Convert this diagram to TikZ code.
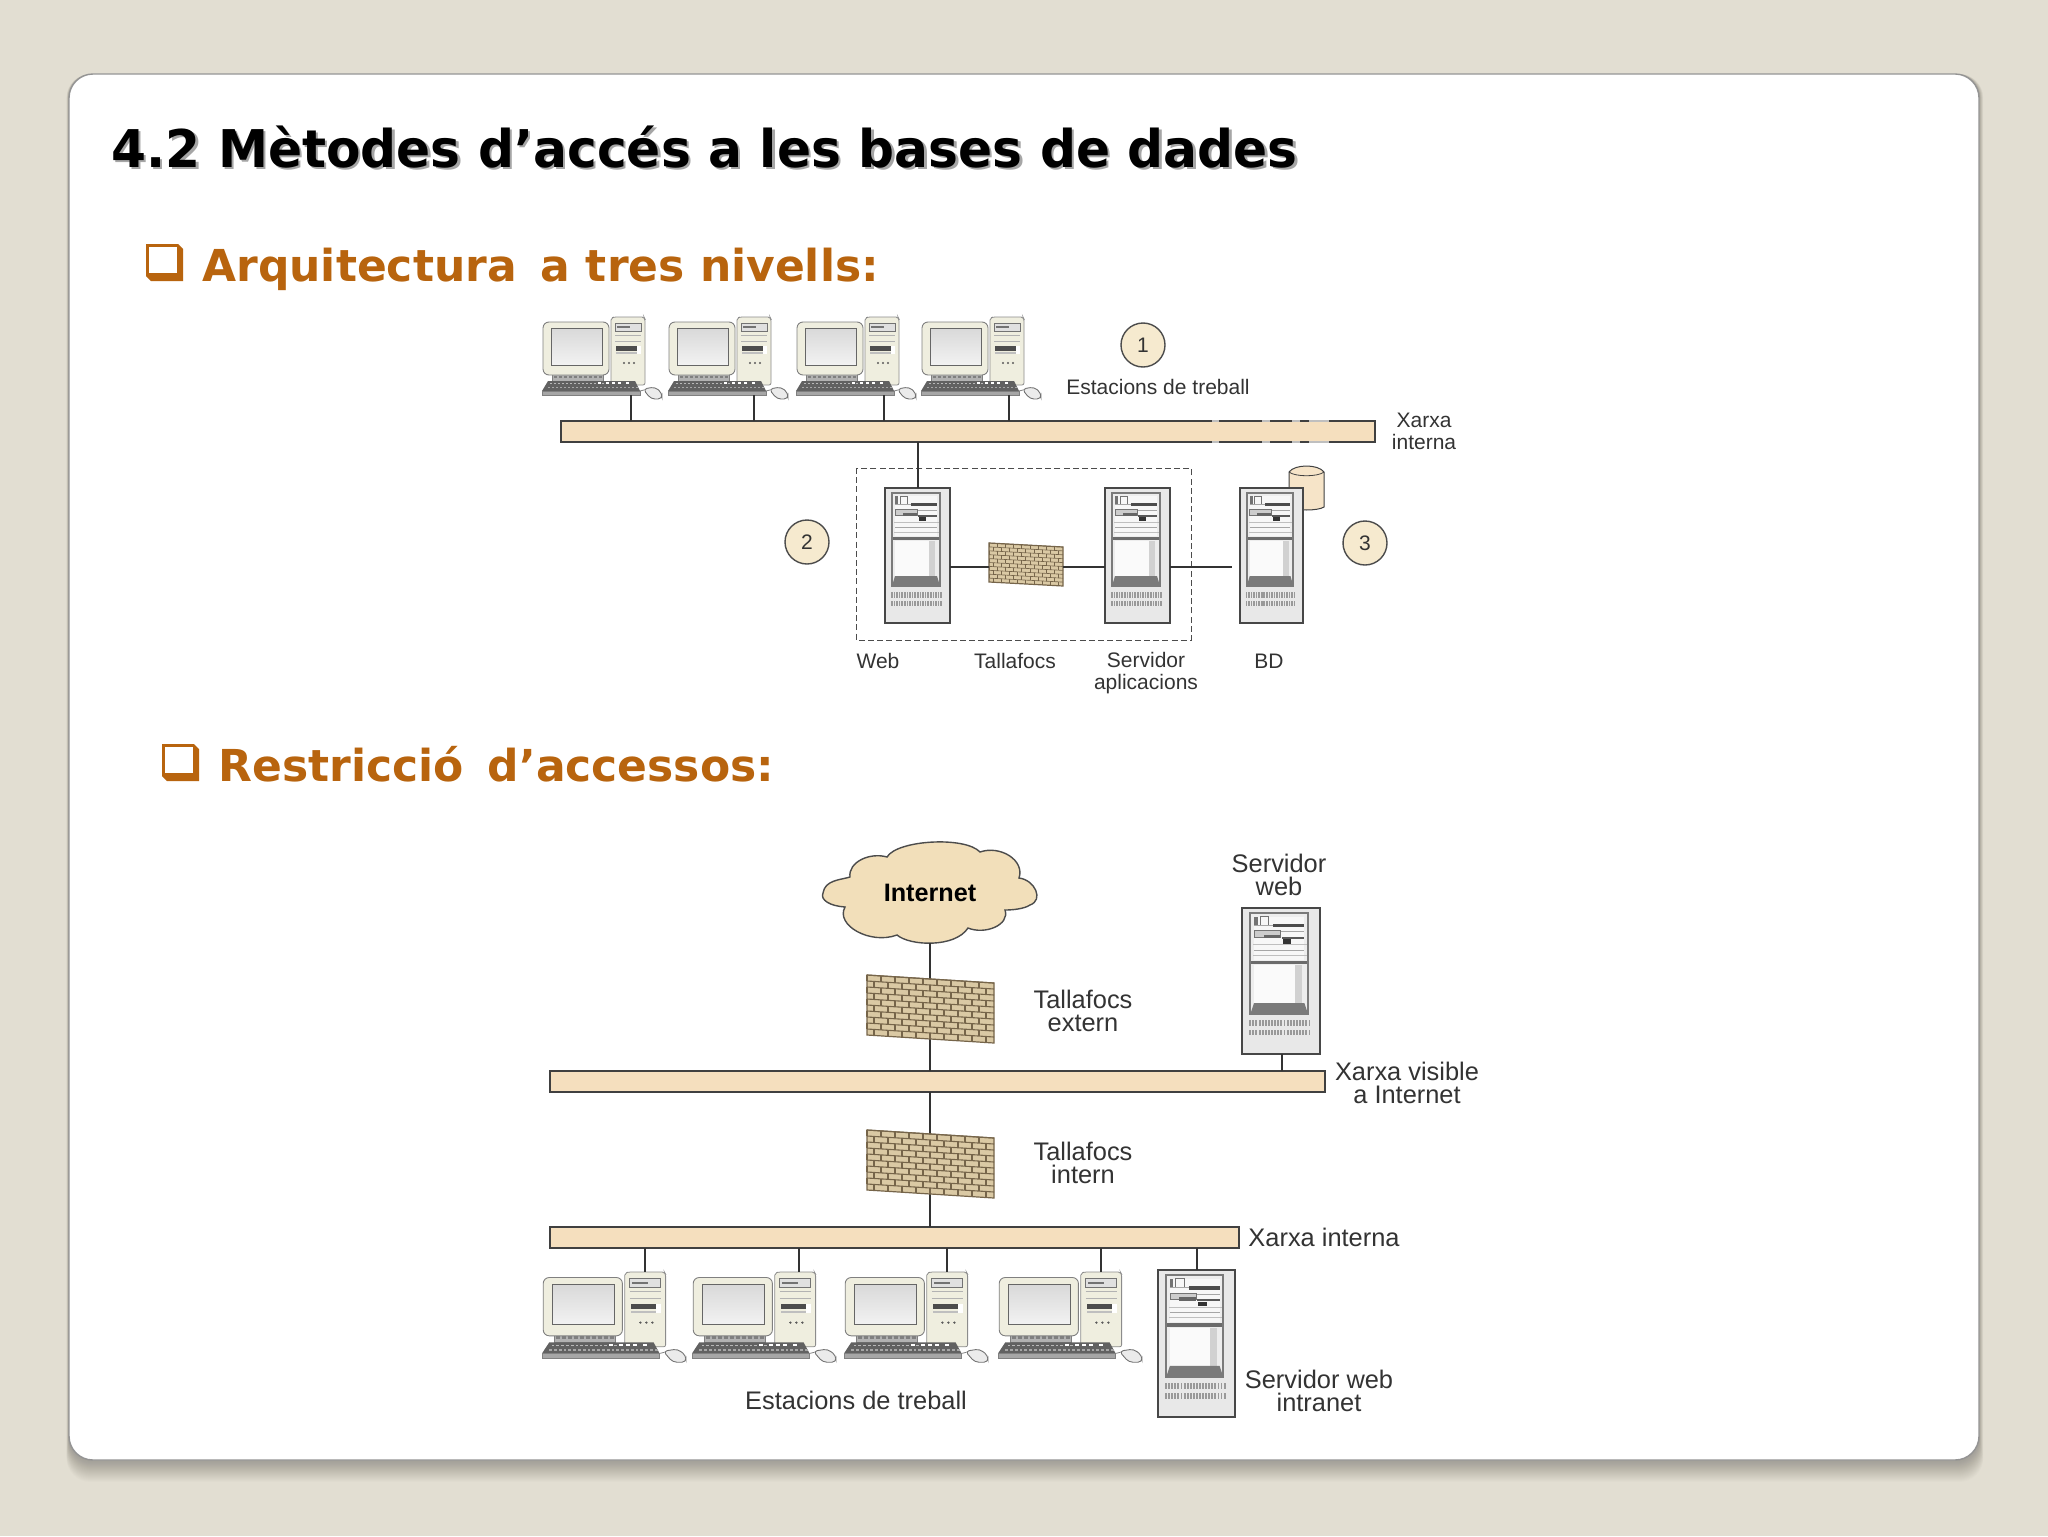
\documentclass[tikz,border=0pt]{standalone}
\usepackage{graphicx}
\usepackage{fontspec}
\setmainfont{Liberation Sans}
\newfontfamily\verd{DejaVu Sans}
\definecolor{bgc}{HTML}{E2DED2}
\definecolor{orng}{HTML}{B8640E}
\definecolor{barc}{HTML}{F5DFBE}
\definecolor{cloudc}{HTML}{F2DFBA}
\definecolor{circc}{HTML}{F6EACF}
\definecolor{creamc}{HTML}{EFEEDF}
\definecolor{txtc}{HTML}{333333}
\definecolor{brickc}{HTML}{DAC9A4}
\definecolor{mortar}{HTML}{76654A}
\tikzset{
  wire/.style={draw=black!80,line width=0.55pt},
  netbar/.style={draw=black!75,fill=barc,line width=0.75pt,inner sep=0pt,outer sep=0pt,minimum height=10.5pt,anchor=north west},
  lab/.style={text=txtc,inner sep=0pt,align=center,font=\fontsize{10.5}{11}\selectfont},
  labb/.style={text=txtc,inner sep=0pt,align=center,font=\fontsize{12.7}{11.5}\selectfont},
  numc/.style={circle,draw=black!70,fill=circc,line width=0.7pt,minimum size=22pt,inner sep=0pt,text=txtc,font=\fontsize{10.5}{10.5}\selectfont},
  ttl/.style={anchor=base west,inner sep=0pt,font=\verd\bfseries\fontsize{26}{26}\selectfont},
  sub/.style={anchor=base west,inner sep=0pt,text=orng,font=\verd\bfseries\fontsize{22}{22}\selectfont},
}
% name, x, y, xscale, yscale : local frame 120 x 82
\newcommand{\compu}[5]{%
\begin{scope}[shift={(#2,#3)},xscale=#4,yscale=#5]
 \coordinate (#1) at (0,0);
 \draw[black!45,fill=creamc,line width=0.4pt,rounded corners=1pt] (69,1) -- (72,0) -- (102,0) -- (103,2) -- (103,68) -- (69,68) -- cycle;
 \draw[black!55,fill=black!12,line width=0.4pt] (73,6) rectangle (99,14);
 \fill[black!55] (75,9) rectangle (88,11);
 \draw[black!30,line width=0.4pt] (73,18) -- (99,18) (73,24) -- (99,24);
 \fill[black!70] (74,29) rectangle (95,34);
 \fill[black!25] (74,35) rectangle (95,37);
 \fill[white] (95,29) rectangle (99,37);
 \foreach \d in {82,87,92} \fill[black!65] (\d,46) circle[radius=1.1];
 \draw[black!50,fill=black!30,line width=0.3pt] (10,57) rectangle (61,64);
 \draw[black!50,fill=creamc,line width=0.45pt,rounded corners=3pt] (1,5) rectangle (67,58);
 \draw[black!60,top color=black!15,bottom color=black!5,line width=0.5pt] (9,11) rectangle (60,48);
 \foreach \d in {12,17,...,58} \fill[black!50] (\d,58.5) rectangle +(3,2);
 \fill[black!62] (6,64) -- (93,64) -- (98,74) -- (0,74) -- cycle;
 \foreach \d in {8,12,...,60} \fill[black!28] (\d,66) rectangle +(2.4,1.4);
 \foreach \d in {6,10,...,94} \fill[black!35] (\d,70) rectangle +(2.4,1.4);
 \foreach \d in {56,64,70,76,84} \fill[white] (\d,65) rectangle +(3.4,2);
 \draw[black!50,fill=black!35,line width=0.3pt] (0,74) -- (98,74) -- (98,78) -- (0,78) -- cycle;
 \draw[black!50,line width=0.4pt] (98,74) -- (102,73);
 \draw[black!55,fill=black!8,line width=0.45pt,rounded corners=2pt] (101,72) -- (113,70) -- (120,76) -- (120,82) -- (109,82) -- cycle;
\end{scope}}
% name, x, y, xscale, yscale : local frame 65 x 135
\newcommand{\srvr}[5]{%
\begin{scope}[shift={(#2,#3)},xscale=#4,yscale=#5]
 \coordinate (#1) at (0,0);
 \draw[black!72,fill=black!9,line width=0.8pt] (0,0) rectangle (65,135);
 \fill[black!7] (7,5) rectangle (55,98);
 \fill[black!3] (10,8) rectangle (52,48);
 \fill[black!55] (10,8) rectangle (13,16);
 \draw[black!55,line width=0.3pt] (15,8) rectangle (22,16);
 \draw[black!35,line width=0.4pt] (10,16) -- (52,16) (10,22) -- (52,22) (10,39) -- (52,39);
 \fill[black!70] (26,15) rectangle (52,18);
 \draw[black!55,fill=black!20,line width=0.3pt] (10,21) rectangle (32,27);
 \fill[black!60] (18,25) rectangle (32,28);
 \fill[black!65] (33,26.5) rectangle (52,28.5);
 \fill[black!80] (34,29) rectangle (41,33);
 \draw[black!25,line width=0.5pt] (9,34) -- (54,34) (9,44) -- (54,44);
 \fill[black!2] (10,53) rectangle (44,88);
 \fill[black!18] (44,53) rectangle (50,88);
 \fill[black!52] (10,88) -- (52,88) -- (55,98) -- (7,98) -- cycle;
 \fill[black!58] (7,49) rectangle (55,52);
 \draw[black!52,line width=1pt] (7,5) rectangle (55,98);
 \foreach \d in {6,8.6,...,58} {\fill[black!40] (\d,104) rectangle +(1.6,5.5); \fill[black!40] (\d,112.5) rectangle +(1.6,5.5);}
\end{scope}}
% name, x, y, width-scale, height-scale, slant : local frame 127 x 60
\newcommand{\wallb}[6]{%
\begin{scope}[shift={(#2,#3)},yslant=-#6,xscale=#4,yscale=#5]
 \coordinate (#1) at (0,0);
 \fill[brickc] (0,0) rectangle (127,60);
 \foreach \r [evaluate=\r as \yy using \r*6] in {0,...,9} {
   \draw[mortar,line width={0.55pt*#4}] (0,\yy) -- (127,\yy);
   \pgfmathsetmacro{\off}{mod(\r,2)*7}
   \foreach \c in {0,...,8} {
     \pgfmathsetmacro{\xx}{\c*14+\off}
     \draw[mortar,line width={0.55pt*#4}] (\xx,\yy) -- (\xx,\yy+6);
   }
 }
 \draw[mortar,line width=0.6pt] (0,0) rectangle (127,60);
\end{scope}}
\newcommand{\sqbul}[2]{%
\begin{scope}[shift={(#1,#2)}]
 \fill[orng] (0,0) -- (32,0) -- (37,5) -- (37,37) -- (5,37) -- (0,32) -- cycle;
 \fill[white] (2.5,3) rectangle (31,29);
\end{scope}}
\begin{document}
\begin{tikzpicture}[x=0.5pt,y=-0.5pt]
\useasboundingbox (0,0) rectangle (2048,1536);
\fill[bgc] (0,0) rectangle (2048,1536);
% card shadow and card
\foreach \i in {22,21,...,1}
  \fill[black,opacity=0.011,rounded corners=12pt] (69-\i*0.12,74) rectangle (1979+\i*0.2,1460+\i);
\draw[black!42,fill=white,line width=0.7pt,rounded corners=12pt] (69,74) rectangle (1979,1460);
% headings
\node[ttl,text=black!35] (titleshade) at (113.5,169) {\scalebox{0.967}[1]{4.2 Mètodes d’accés a les bases de dades}};
\node[ttl,text=black] (title) at (111,167) {\scalebox{0.967}[1]{4.2 Mètodes d’accés a les bases de dades}};
\sqbul{146}{244}
\node[sub] (subone) at (202,281) {Arquitectura\hspace{0.55em}a tres nivells:};
\sqbul{162}{744}
\node[sub] (subtwo) at (218,781) {Restricció\hspace{0.55em}d’accessos:};

% ===== upper diagram =====
\node[netbar,minimum width=407pt] (bar1) at (561,421) {};
\foreach \a/\b in {1212/1219,1262/1270,1292/1300,1309/1329} {
  \draw[black!25,line width=0.8pt] (\a,421) -- (\b,421);
  \draw[black!25,line width=0.8pt] (\a,442) -- (\b,442);
}
\compu{pca}{542}{317}{1}{1}
\compu{pcb}{668}{317}{1}{1}
\compu{pcc}{796}{317}{1}{1}
\compu{pcd}{921}{317}{1}{1}
\coordinate (pa) at (631,395);
\coordinate (pb) at (754,395);
\coordinate (pc) at (884,395);
\coordinate (pd) at (1009,395);
\foreach \p in {pa,pb,pc,pd} \draw[wire] (\p) -- (\p |- bar1.north);
\node[numc] (n1) at (1143,345) {1};
\node[lab] (est1) at (1158,387) {Estacions de treball};
\node[lab] (xi1) at (1424,431) {Xarxa\\interna};
\draw[black!70,line width=0.5pt,dash pattern=on 3pt off 1.6pt] (856,468) rectangle (1191,640);
\draw[black!75,fill=barc!85,line width=0.5pt] (1289,472) -- (1289,507) .. controls (1295,511) and (1318,511) .. (1324,507) -- (1324,472) .. controls (1318,464) and (1295,464) .. (1289,472) -- cycle;
\draw[black!75,line width=0.4pt] (1289,472) .. controls (1295,477) and (1318,477) .. (1324,472);
\srvr{srva}{885}{488}{1}{1}
\srvr{srvb}{1105}{488}{1}{1}
\srvr{srvc}{1240}{488}{0.97}{1}
\wallb{wa}{989}{543}{0.583}{0.65}{0.054}
\coordinate (sa) at (918,488);
\draw[wire] (sa |- bar1.south) -- (sa);
\coordinate (la) at (950,567);
\coordinate (lb) at (989,567);
\coordinate (lc) at (1063,567);
\coordinate (ld) at (1105,567);
\coordinate (le) at (1170,567);
\coordinate (lf) at (1232,567);
\draw[wire] (la) -- (lb);
\draw[wire] (lc) -- (ld);
\draw[wire] (le) -- (lf);
\node[numc] (n2) at (807,542) {2};
\node[numc] (n3) at (1365,543) {3};
\node[lab] (lweb) at (878,661) {Web};
\node[lab] (ltf) at (1015,661) {Tallafocs};
\node[lab,anchor=north] (lsv) at (1146,652) {Servidor\\aplicacions};
\node[lab] (lbd) at (1269,661) {BD};

% ===== lower diagram =====
\node[netbar,minimum width=387.5pt] (bar2) at (550,1071) {};
\node[netbar,minimum width=344.5pt] (bar3) at (550,1227) {};
\draw[black!70,fill=cloudc,line width=0.7pt] (823,893) .. controls (825,880) and (840,880) .. (850,877)
  .. controls (848,862) and (870,852) .. (887,857)
  .. controls (897,840) and (965,836) .. (980,852)
  .. controls (1000,845) and (1025,860) .. (1019,878)
  .. controls (1035,880) and (1044,900) .. (1030,905)
  .. controls (1024,909) and (1012,910) .. (1005,910)
  .. controls (1010,925) and (985,935) .. (968,928)
  .. controls (955,948) and (910,946) .. (897,935)
  .. controls (870,945) and (835,925) .. (845,907)
  .. controls (830,906) and (820,900) .. (823,893) -- cycle;
\node[text=black,inner sep=0pt,font=\bfseries\fontsize{12.6}{12.6}\selectfont] (inet) at (930,893) {Internet};
\coordinate (ca) at (930,943);
\draw[wire] (ca) -- (ca |- bar2.north);
\draw[wire] (ca |- bar2.south) -- (ca |- bar3.north);
\wallb{wb}{867}{975}{1}{1}{0.063}
\wallb{wc}{867}{1130}{1}{1}{0.063}
\node[labb] (ltfe) at (1083,1011) {Tallafocs\\extern};
\node[labb] (ltfi) at (1083,1163) {Tallafocs\\intern};
\node[labb] (lsw) at (1279,875) {Servidor\\web};
\srvr{srvd}{1242}{908}{1.2}{1.08}
\coordinate (sd) at (1282,1054);
\draw[wire] (sd) -- (sd |- bar2.north);
\node[labb] (lxv) at (1407,1083) {Xarxa visible\\a Internet};
\node[labb] (lxi) at (1324,1237) {Xarxa interna};
\compu{pce}{542}{1272}{1.2}{1.1}
\compu{pcf}{692}{1272}{1.2}{1.1}
\compu{pcg}{844}{1272}{1.2}{1.1}
\compu{pch}{998}{1272}{1.2}{1.1}
\srvr{srve}{1158}{1270}{1.185}{1.09}
\coordinate (pe) at (645,1272);
\coordinate (pf) at (799,1272);
\coordinate (pg) at (947,1272);
\coordinate (ph) at (1101,1272);
\coordinate (pi) at (1197,1270);
\foreach \p in {pe,pf,pg,ph,pi} \draw[wire] (\p |- bar3.south) -- (\p);
\node[labb] (lest) at (856,1400) {Estacions de treball};
\node[labb] (lswi) at (1319,1391) {Servidor web\\intranet};
\end{tikzpicture}
\end{document}
